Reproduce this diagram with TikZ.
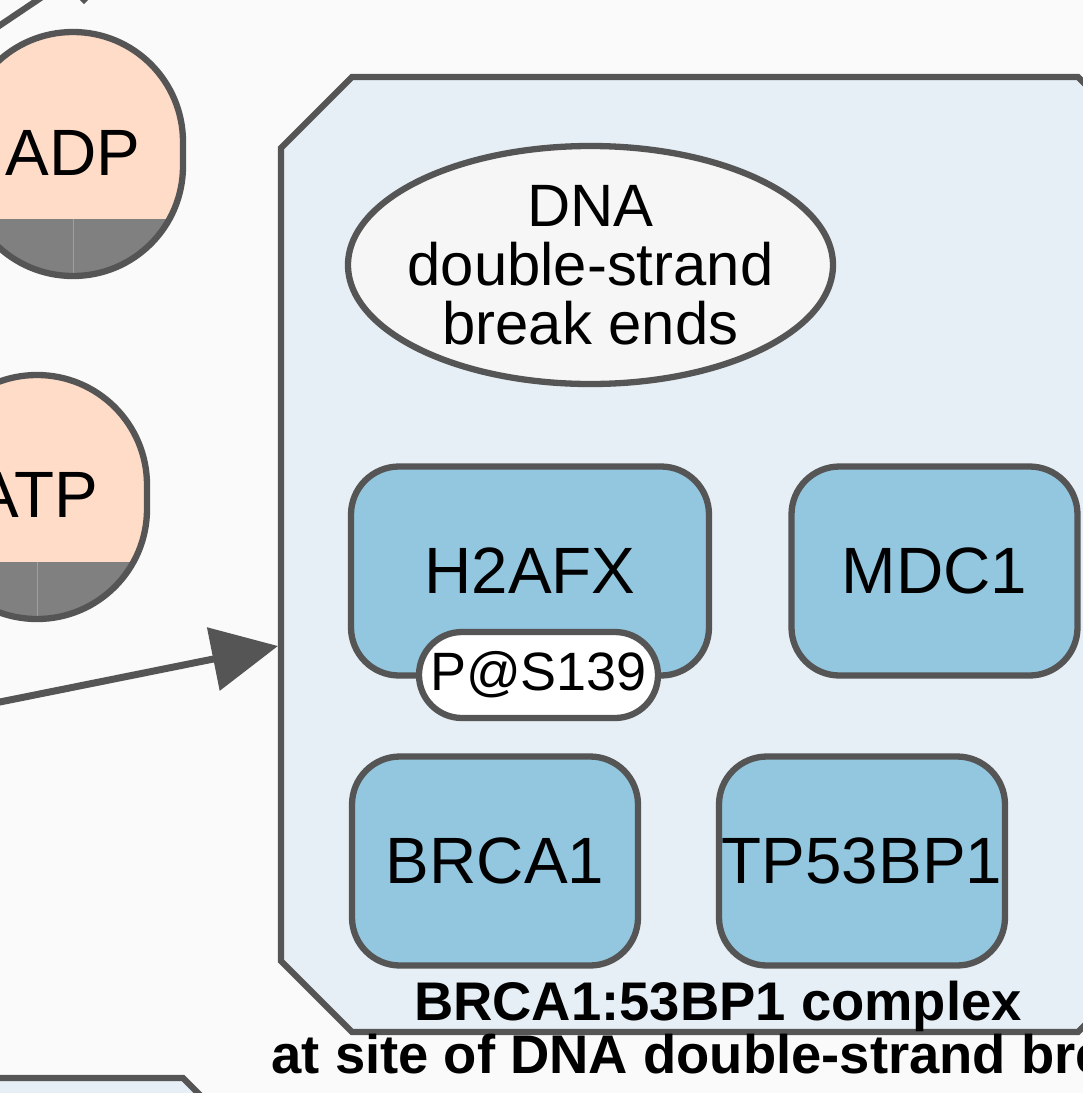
\documentclass[tikz,border=0pt]{standalone}
\usepackage{fontspec}
\setmainfont{Liberation Sans}
\usetikzlibrary{arrows.meta,shapes.geometric}
\definecolor{bgc}{HTML}{FAFAFA}
\definecolor{strk}{HTML}{555555}
\definecolor{peach}{HTML}{FFDCC8}
\definecolor{grayc}{HTML}{808080}
\definecolor{protc}{HTML}{93C6DF}
\definecolor{cplxc}{HTML}{E6EFF6}
\definecolor{dnac}{HTML}{F6F6F6}
\begin{document}
\begin{tikzpicture}[x=1pt,y=-1pt,line width=6.3pt,
  prot/.style={draw=strk,fill=protc,rounded corners=48pt,inner sep=0pt,
    font=\fontsize{65.5}{65.5}\selectfont},
  modpill/.style={draw=strk,fill=white,rounded corners=43pt,inner sep=0pt,
    font=\fontsize{54}{54}\selectfont},
  lbl/.style={inner sep=0pt,font=\fontsize{65.5}{65.5}\selectfont},
  cplxlbl/.style={inner sep=0pt,anchor=base,font=\bfseries\fontsize{54.4}{54.4}\selectfont},
  conn/.style={draw=strk,line width=7pt,-{Triangle[length=66pt,width=63pt]}}]
\useasboundingbox (0,0) rectangle (1083,1093);
\clip (0,0) rectangle (1083,1093);
\fill[bgc] (0,0) rectangle (1083,1093);

% top-left fragments
\draw[strk,line cap=butt] (-10,32) -- (45,-5);
\fill[strk] (78,-2) -- (90,-2) -- (84,4) -- cycle;

% ADP
\begin{scope}
  \clip[rounded corners=109.9pt] (-37,32) rectangle (183,276);
  \fill[peach] (-40,30) rectangle (190,280);
  \fill[grayc] (-40,219) rectangle (190,280);
  \draw[line width=1pt,color=gray!75] (73,219) -- (73,280);
\end{scope}
\draw[strk,rounded corners=109.9pt] (-37,32) rectangle (183,276);
\node[lbl] (adp) at (73,153) {ADP};

% ATP
\begin{scope}
  \clip[rounded corners=109.9pt] (-73,375) rectangle (147,619);
  \fill[peach] (-80,370) rectangle (150,625);
  \fill[grayc] (-80,562) rectangle (150,625);
  \draw[line width=1pt,color=gray!75] (37,562) -- (37,625);
\end{scope}
\draw[strk,rounded corners=109.9pt] (-73,375) rectangle (147,619);
\node[lbl] (atp) at (37,495) {ATP};

% bottom-left complex fragment
\draw[strk,fill=cplxc] (-10,1078) -- (183,1078) -- (215,1110) -- (-10,1110) -- cycle;

% complex
\draw[strk,fill=cplxc] (281,148) -- (352,77) -- (1078,77) -- (1155,154) -- (1155,955)
  -- (1078,1032) -- (352,1032) -- (281,961) -- cycle;
\coordinate (cplxW) at (278,646);
\node[cplxlbl] (cl1) at (718,1020) {BRCA1:53BP1 complex};
\node[cplxlbl] (cl2) at (719,1073) {at site of DNA double-strand break};

% DNA ends
\node[ellipse,draw=strk,fill=dnac,minimum width=485pt,minimum height=238pt,inner sep=0pt]
  (dna) at (590.5,265) {};
\node[align=center,inner sep=0pt,font=\fontsize{59.8}{59}\selectfont] (dnatxt) at (dna.center)
  {DNA\\double-strand\\break ends};

% proteins
\node[prot,minimum width=358pt,minimum height=209pt] (h2afx) at (530,571) {H2AFX};
\node[prot,minimum width=286pt,minimum height=209pt] (mdc1) at (934.5,571) {MDC1};
\node[prot,minimum width=286pt,minimum height=209pt] (brca1) at (495,861) {BRCA1};
\node[prot,minimum width=286pt,minimum height=209pt] (tp53bp1) at (862,861) {TP53BP1};
\node[modpill,minimum width=239pt,minimum height=86pt] (ps139) at (538.5,675) {P@S139};

% connector
\coordinate (arrS) at (-30,708);
\draw[conn] (arrS) -- (cplxW);
\end{tikzpicture}
\end{document}
